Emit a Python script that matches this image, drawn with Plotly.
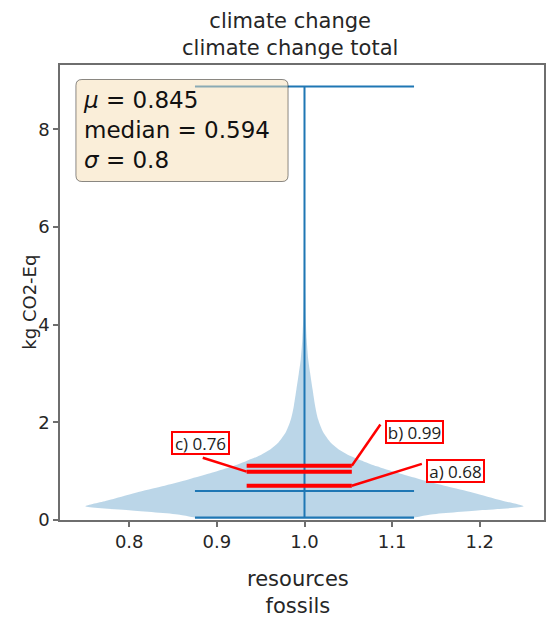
import plotly.graph_objects as go

# ---------------- data ----------------
title_lines = ["climate change", "climate change total"]
xlabel_lines = ["resources", "fossils"]
ylabel = "kg CO2-Eq"

x_ticks = [0.8, 0.9, 1.0, 1.1, 1.2]
y_ticks = [0, 2, 4, 6, 8]

position = 1.0
violin_width = 0.5
# KDE profile of the violin: value (kg CO2-Eq) and relative half width
violin_y = [0.05, 0.11, 0.2, 0.28, 0.4, 0.56, 0.69, 0.83, 0.97, 1.1, 1.2, 1.31,
            1.45, 1.58, 1.8, 2.06, 2.35, 2.67, 3.0, 3.29, 3.7, 4.1, 4.6, 5.2,
            6.0, 7.0, 8.0, 8.87]
violin_w = [0.5, 0.57, 0.8, 1.0, 0.9, 0.77, 0.65, 0.53, 0.42, 0.33, 0.27, 0.21,
            0.155, 0.12, 0.085, 0.062, 0.048, 0.037, 0.026, 0.017, 0.01, 0.006, 0.004,
            0.003, 0.002, 0.0015, 0.001, 0.0008]

stat_min = 0.05
stat_max = 8.874
stat_median = 0.594
stat_mean = 0.845
stat_sigma = 0.8

# red marker lines added on top of the violin
red_labels = ["a) 0.68", "c) 0.76", "b) 0.99"]
red_y = [0.70, 0.99, 1.11]
red_x = [0.934, 1.054]

# ---------------- figure ----------------
W, H = 547, 619
L, R, T, B = 60, 1, 65, 99
xr = [0.721, 1.2733]
yr = [0.0, 9.314]

BLUE = "#1f77b4"
TXT = "#262626"
AX = "#6e6e6e"

fig = go.Figure()

half = violin_width / 2
xs = [position - half * w for w in violin_w] + [position + half * w for w in reversed(violin_w)]
ys = list(violin_y) + list(reversed(violin_y))
fig.add_trace(go.Scatter(x=xs, y=ys, mode="lines", fill="toself",
                         fillcolor="rgba(31,119,180,0.3)",
                         line=dict(width=0, shape="spline", smoothing=0.7),
                         hoverinfo="skip", showlegend=False))

cap = violin_width / 4
# vertical extent line
fig.add_trace(go.Scatter(x=[position, position], y=[stat_min, stat_max], mode="lines",
                         line=dict(color=BLUE, width=2), showlegend=False))
for v in [stat_min, stat_max, stat_median]:
    fig.add_trace(go.Scatter(x=[position - cap, position + cap], y=[v, v], mode="lines",
                             line=dict(color=BLUE, width=2.2), showlegend=False))

for v in red_y:
    fig.add_trace(go.Scatter(x=red_x, y=[v, v], mode="lines",
                             line=dict(color="#ff0000", width=4), showlegend=False))

# leader lines and label boxes (data coordinates)
label_boxes = {
    "a) 0.68": dict(cx=1.1722, cy=1.007, start=(red_x[1], red_y[0]), end=(1.1339, 1.150)),
    "c) 0.76": dict(cx=0.8815, cy=1.578, start=(red_x[0], red_y[1]), end=(0.8839, 1.273)),
    "b) 0.99": dict(cx=1.1255, cy=1.808, start=(red_x[1], red_y[2]), end=(1.0866, 1.955)),
}
for lab in red_labels:
    d = label_boxes[lab]
    fig.add_shape(type="line", x0=d["start"][0], y0=d["start"][1], x1=d["end"][0], y1=d["end"][1],
                  xref="x", yref="y", line=dict(color="#ff0000", width=2.5))
    fig.add_annotation(x=d["cx"], y=d["cy"], xref="x", yref="y", text=lab, showarrow=False,
                       font=dict(family="Open Sans", size=17, color="#222"),
                       bgcolor="white", bordercolor="#ff0000", borderwidth=2, borderpad=0,
                       width=55, height=20)

# stats box (rounded)
bx0, bx1 = (76 - L) / 486, (289 - L) / 486
by1, by0 = (520.5 - 80) / 455, (520.5 - 182) / 455
rx, ry = 6 / 486, 6 / 455
path = (f"M {bx0+rx},{by0} L {bx1-rx},{by0} Q {bx1},{by0} {bx1},{by0+ry} "
        f"L {bx1},{by1-ry} Q {bx1},{by1} {bx1-rx},{by1} L {bx0+rx},{by1} "
        f"Q {bx0},{by1} {bx0},{by1-ry} L {bx0},{by0+ry} Q {bx0},{by0} {bx0+rx},{by0} Z")
fig.add_shape(type="path", path=path, xref="paper", yref="paper",
              fillcolor="rgba(245,222,179,0.5)", line=dict(color="rgba(0,0,0,0.45)", width=1),
              layer="above")
stats_text = (f"<i>μ</i> = {stat_mean:.3f}<br>median = {stat_median:.3f}<br>"
              f"<i>σ</i> = {stat_sigma:.1f}")
fig.add_annotation(x=(81 - L) / 486, y=(520.5 - 86) / 455, xref="paper", yref="paper",
                   xanchor="left", yanchor="top", align="left", showarrow=False,
                   text=stats_text, font=dict(family="DejaVu Sans", size=23, color="#111"))

# titles as annotations placed in pixel space
def px_x(p):
    return (p - L) / (W - L - R)

def px_y(p):
    return (H - B - p) / (H - T - B)

fig.add_annotation(x=px_x(291), y=px_y(34), xref="paper", yref="paper", yanchor="middle",
                   showarrow=False, text="<br>".join(title_lines),
                   font=dict(family="DejaVu Sans", size=21, color=TXT))
fig.add_annotation(x=px_x(299), y=px_y(592), xref="paper", yref="paper", yanchor="middle",
                   showarrow=False, text="<br>".join(xlabel_lines),
                   font=dict(family="DejaVu Sans", size=21, color=TXT))
fig.add_annotation(x=px_x(16), y=px_y(302), xref="paper", yref="paper", textangle=-90,
                   showarrow=False, text=ylabel,
                   font=dict(family="DejaVu Sans", size=18, color=TXT))

fig.update_xaxes(range=xr, tickvals=x_ticks, ticktext=[f"{v:.1f}" for v in x_ticks],
                 showgrid=False, zeroline=False, showline=True, linecolor=AX, linewidth=1.5,
                 mirror=True, ticks="outside", ticklen=5, tickcolor=AX, tickwidth=1.5,
                 tickfont=dict(family="DejaVu Sans", size=18, color=TXT))
fig.update_yaxes(range=yr, tickvals=y_ticks, showgrid=False, zeroline=False, showline=True,
                 linecolor=AX, linewidth=1.5, mirror=True, ticks="outside", ticklen=5,
                 tickcolor=AX, tickwidth=1.5,
                 tickfont=dict(family="DejaVu Sans", size=18, color=TXT))

fig.update_layout(width=W, height=H, margin=dict(l=L, r=R, t=T, b=B),
                  plot_bgcolor="white", paper_bgcolor="white", showlegend=False)

fig.write_html("out.html")
